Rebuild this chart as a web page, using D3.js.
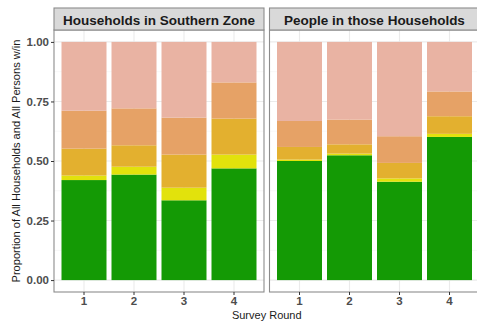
<!DOCTYPE html>
<html>
<head>
<meta charset="utf-8">
<script src="https://cdn.jsdelivr.net/npm/d3@7"></script>
<style>
  html, body { margin: 0; padding: 0; background: #fff; }
  svg { display: block; font-family: "Liberation Sans", Arial, Helvetica, sans-serif; }
</style>
</head>
<body>
<svg id="chart" width="477" height="321"></svg>
<script>
// Survey rounds on the x axis
const rounds = ["1", "2", "3", "4"];
// Stack order, bottom to top
const levels = ["green", "yellow", "gold", "orange", "pink"];
const levelColors = ["#149A05", "#E2E20C", "#E3B02F", "#E6A266", "#E9B3A3"];
const yTicks = [0, 0.25, 0.5, 0.75, 1];
const panelTitles = ["Households in Southern Zone", "People in those Households"];

// Households: share in each level, per round
const hhGreen  = [0.420, 0.443, 0.335, 0.469];
const hhYellow = [0.019, 0.033, 0.053, 0.058];
const hhGold   = [0.113, 0.090, 0.139, 0.151];
const hhOrange = [0.159, 0.155, 0.155, 0.152];
const hhPink   = [0.289, 0.279, 0.318, 0.170];

// People in those households: share in each level, per round
const pGreen  = [0.500, 0.524, 0.413, 0.601];
const pYellow = [0.006, 0.007, 0.014, 0.013];
const pGold   = [0.053, 0.039, 0.065, 0.074];
const pOrange = [0.109, 0.104, 0.112, 0.104];
const pPink   = [0.332, 0.326, 0.396, 0.208];

function toRows(series) {
  return rounds.map((r, i) => {
    const row = { round: r };
    levels.forEach((k, j) => { row[k] = series[j][i]; });
    return row;
  });
}
const panels = [
  { title: panelTitles[0], rows: toRows([hhGreen, hhYellow, hhGold, hhOrange, hhPink]) },
  { title: panelTitles[1], rows: toRows([pGreen, pYellow, pGold, pOrange, pPink]) }
];

const svg = d3.select("#chart");
const panelW = 210, gap = 5.5;
const panelTop = 30, panelBottom = 292, stripTop = 8;
const left0 = 54;

const y = d3.scaleLinear().domain([-0.05, 1.05]).range([panelBottom, panelTop]);
const x = d3.scaleBand().domain(rounds).range([0, panelW]).paddingInner(0.1).paddingOuter(0.15);
const color = d3.scaleOrdinal().domain(levels).range(levelColors);
const stack = d3.stack().keys(levels);

panels.forEach((p, pi) => {
  const g = svg.append("g").attr("transform", `translate(${left0 + pi * (panelW + gap)},0)`);

  // grid: minor then major
  const minor = [0.125, 0.375, 0.625, 0.875];
  g.selectAll(".ymin").data(minor).join("line")
    .attr("x1", 0).attr("x2", panelW).attr("y1", d => y(d)).attr("y2", d => y(d))
    .attr("stroke", "#F2F2F2").attr("stroke-width", 0.6);
  g.selectAll(".ymaj").data(yTicks).join("line")
    .attr("x1", 0).attr("x2", panelW).attr("y1", d => y(d)).attr("y2", d => y(d))
    .attr("stroke", "#EBEBEB").attr("stroke-width", 1.1);
  g.selectAll(".xmaj").data(rounds).join("line")
    .attr("x1", d => x(d) + x.bandwidth() / 2).attr("x2", d => x(d) + x.bandwidth() / 2)
    .attr("y1", panelTop).attr("y2", panelBottom)
    .attr("stroke", "#EBEBEB").attr("stroke-width", 1.1);

  // stacked bars
  const series = stack(p.rows);
  g.selectAll("g.layer").data(series).join("g")
    .attr("fill", d => color(d.key))
    .selectAll("rect").data(d => d).join("rect")
    .attr("x", d => x(d.data.round))
    .attr("width", x.bandwidth())
    .attr("y", d => y(d[1]))
    .attr("height", d => y(d[0]) - y(d[1]));

  // panel border
  g.append("rect").attr("x", 0).attr("y", panelTop).attr("width", panelW).attr("height", panelBottom - panelTop)
    .attr("fill", "none").attr("stroke", "#8C8C8C").attr("stroke-width", 1.1);

  // strip
  g.append("rect").attr("x", 0).attr("y", stripTop).attr("width", panelW).attr("height", panelTop - stripTop)
    .attr("fill", "#D9D9D9").attr("stroke", "#8C8C8C").attr("stroke-width", 1.1);
  g.append("text").attr("x", panelW / 2).attr("y", stripTop + 16.5)
    .attr("text-anchor", "middle").attr("font-size", 13.5).attr("font-weight", "bold")
    .attr("fill", "#1A1A1A").text(p.title);

  // x axis
  const xa = g.append("g").attr("transform", `translate(0,${panelBottom})`)
    .call(d3.axisBottom(x).tickSize(3).tickPadding(2));
  xa.select(".domain").remove();
  xa.selectAll(".tick line").attr("stroke", "#333").attr("stroke-width", 1);
  xa.selectAll(".tick text").attr("font-size", 11.5).attr("font-weight", "bold")
    .attr("fill", "#4D4D4D").attr("font-family", "Liberation Sans, Arial, sans-serif");
});

// y axis on the first panel
const ya = svg.append("g").attr("transform", `translate(${left0},0)`)
  .call(d3.axisLeft(y).tickValues(yTicks).tickFormat(d3.format(".2f")).tickSize(3).tickPadding(2));
ya.select(".domain").remove();
ya.selectAll(".tick line").attr("stroke", "#333").attr("stroke-width", 1);
ya.selectAll(".tick text").attr("font-size", 11.5).attr("font-weight", "bold")
  .attr("fill", "#4D4D4D").attr("font-family", "Liberation Sans, Arial, sans-serif");

// axis titles
svg.append("text").attr("x", left0 + panelW + gap / 2).attr("y", 319)
  .attr("text-anchor", "middle").attr("font-size", 11).attr("fill", "#1A1A1A").text("Survey Round");
svg.append("text")
  .attr("transform", `translate(20,${y(0.5)}) rotate(-90)`)
  .attr("text-anchor", "middle").attr("font-size", 11.1).attr("fill", "#1A1A1A")
  .text("Proportion of All Households and All Persons w/in");
</script>
</body>
</html>
